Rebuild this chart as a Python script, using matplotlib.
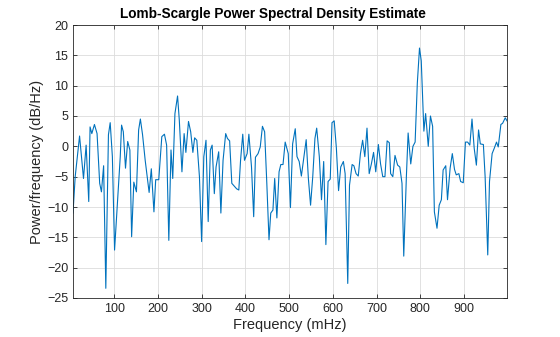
import matplotlib
matplotlib.use("Agg")
import matplotlib.pyplot as plt

# values (frequency in mHz, power in dB/Hz)
freq_mhz = [6, 11, 21, 30, 36, 42, 45, 49, 55, 61, 67, 71, 76, 81, 87, 91, 96, 101,
            108, 114, 117, 121, 126, 131, 136, 140, 145, 151, 156, 160, 165, 171, 180,
            185, 191, 195, 202, 209, 215, 220, 225, 230, 234, 239, 245, 249, 255, 260,
            264, 270, 275, 280, 284, 289, 295, 300, 305, 310, 315, 320, 324, 329, 333,
            339, 344, 349, 355, 359, 364, 369, 374, 380, 385, 389, 394, 398, 404, 408,
            414, 419, 423, 429, 434, 439, 444, 449, 454, 458, 463, 467, 472, 477, 481,
            486, 491, 498, 503, 508, 514, 518, 523, 528, 534, 539, 544, 549, 554, 559,
            563, 569, 574, 579, 584, 589, 594, 598, 603, 608, 613, 618, 624, 628, 634,
            638, 644, 648, 653, 658, 663, 668, 673, 678, 683, 688, 693, 698, 704, 709,
            714, 719, 724, 729, 732, 737, 742, 748, 753, 758, 762, 768, 772, 778, 783,
            788, 793, 798, 802, 808, 812, 818, 823, 828, 832, 838, 843, 848, 852, 858,
            862, 868, 873, 878, 882, 888, 892, 898, 903, 908, 913, 918, 923, 928, 933,
            937, 944, 948, 954, 958, 964, 969, 974, 978, 984, 988, 994, 998]
power_db = [-11.0, -5.0, 1.7, -5.3, 0.2, -9.1, 3.2, 2.1, 3.6, 2.1, -6.1, -7.5, -3.2, -23.4,
            1.9, 3.9, -1.7, -17.1, -8.8, -1.7, 3.5, 2.4, -3.6, 0.8, -0.6, -14.9, -5.9,
            -7.5, 2.7, 4.5, 1.9, -2.3, -7.6, -3.7, -10.8, -5.5, -5.5, 1.6, 2.0, 0.2,
            -15.5, -0.6, -5.3, 5.4, 8.3, 4.3, -4.2, 2.1, -1.0, 4.1, 2.4, -1.0, 1.4, 1.0,
            -5.0, -15.7, -1.7, 1.0, -12.4, -0.6, 0.2, -7.8, -3.4, -0.9, -11.0, -2.3, 2.1,
            1.3, 0.9, -6.1, -6.5, -7.0, -7.2, -2.3, 2.0, -2.3, -1.2, 2.0, -3.4, -11.6,
            -1.8, -1.2, -0.1, 3.3, 2.4, -6.1, -15.4, -11.0, -10.5, -5.3, -11.8, -4.2,
            -3.0, -3.0, 0.7, -1.2, -10.1, 0.4, 2.9, -1.7, -2.5, -4.9, -1.7, 1.1, -5.3,
            -9.7, -5.0, 1.3, 3.0, -1.7, -8.8, -2.5, -16.2, -5.8, -5.4, 3.9, 4.2, -0.3,
            -7.3, -3.4, -2.5, -4.5, -22.6, -6.4, -3.0, -3.2, -4.5, -4.9, -1.2, 1.0, -1.7,
            3.0, -4.5, -2.9, -1.0, -4.2, 0.3, -2.9, -5.0, -5.0, 0.9, 0.6, -4.5, -5.0,
            -1.5, -3.1, -3.4, -6.1, -18.1, -5.0, 2.2, -2.9, 0.0, 0.7, 10.4, 16.2, 14.1,
            2.5, 5.4, 0.0, 5.0, 3.3, -10.8, -13.5, -9.7, -8.8, -3.9, -3.2, -8.8, -3.6,
            -1.2, -3.8, -4.7, -4.5, -5.8, -6.0, 0.7, 0.7, 0.2, 4.5, -0.3, -3.1, 2.7, 0.4,
            0.3, -5.0, -17.9, -5.8, -1.2, -0.3, 0.7, -0.1, 3.6, 3.8, 4.7, 4.2]
x_ticks = [100, 200, 300, 400, 500, 600, 700, 800, 900]
y_ticks = list(range(-25, 21, 5))

plt.rcParams['font.family'] = ['Liberation Sans', 'DejaVu Sans']
axis_col = '#262626'

fig = plt.figure(figsize=(5.6, 3.37), dpi=100)
ax = fig.add_axes([73 / 560, 1 - 298 / 337, 434 / 560, 273 / 337])

ax.plot(freq_mhz, power_db, color='#0072BD', lw=0.8)

ax.set_xlim(6, 998)
ax.set_ylim(-25, 20)
ax.set_xticks(x_ticks)
ax.set_yticks(y_ticks)
ax.grid(True, color='#dcdcdc', lw=0.6)
ax.set_axisbelow(True)
ax.tick_params(direction='in', top=True, right=True, length=3, width=0.6,
               colors=axis_col, labelsize=9)
for s in ax.spines.values():
    s.set_color(axis_col)
    s.set_linewidth(0.6)

ax.set_xlabel('Frequency (mHz)', fontsize=10.5, color=axis_col, labelpad=2)
ax.set_ylabel('Power/frequency (dB/Hz)', fontsize=10.5, color=axis_col, labelpad=2)
title = ax.set_title('Lomb-Scargle Power Spectral Density Estimate', fontsize=9.8,
                     fontweight='bold', color='black', pad=5)
title.set_x(0.46)

fig.savefig('out.png', dpi=100, facecolor='white')
